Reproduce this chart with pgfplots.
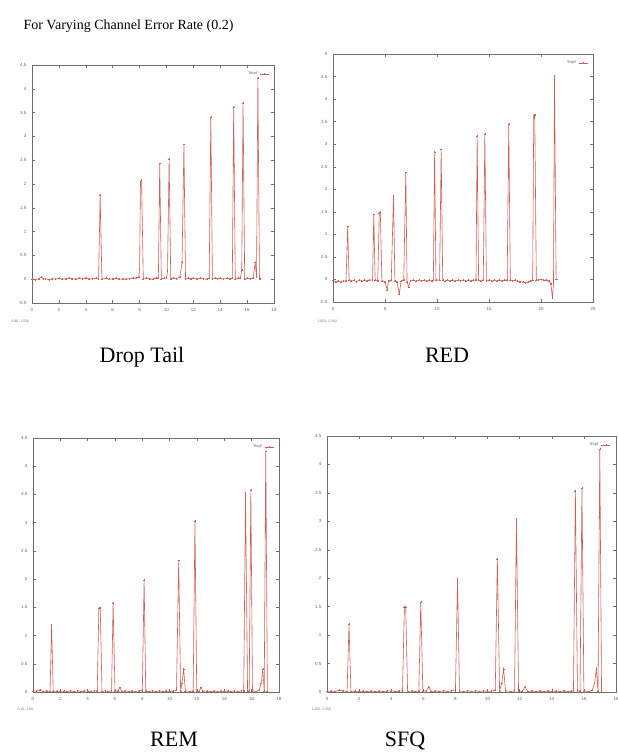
\documentclass[border=0pt]{standalone}
\usepackage{fontspec}
\setmainfont{Liberation Serif}
\newfontfamily\tickfont{Liberation Sans}
\usepackage{pgfplots}
\pgfplotsset{compat=1.18}
\definecolor{xgline}{RGB}{205,95,85}
\definecolor{xgframe}{RGB}{110,110,110}
\pgfplotsset{
 xgp/.style={color=xgline, line width=0.6pt, mark=+, mark size=0.9pt, mark options={solid, line width=0.4pt, draw=xgline}},
 xg/.style={
  scale only axis, anchor=south west,
  axis line style={draw=xgframe, line width=0.6pt},
  tick style={draw=xgframe, line width=0.4pt},
  major tick length=3pt, tick align=inside,
  xtick pos=both, ytick pos=both,
  /pgf/number format/assume math mode=true,
  ticklabel style={font=\tickfont\fontsize{4.5}{5}\selectfont, text=black!60},
  xticklabel style={yshift=-2pt},
  yticklabel style={xshift=-2pt},
  legend style={font=\tickfont\fontsize{4}{4}\selectfont, text=black!60, draw=none, fill=none,
     at={(0.985,0.985)}, anchor=north east, inner sep=1pt},
  legend plot pos=right,
  legend image code/.code={\draw[xgline, line width=0.5pt] (0pt,0pt) -- (9pt,0pt); \draw[xgline, line width=0.4pt] (3.6pt,0pt) -- (5.4pt,0pt) (4.5pt,-0.9pt) -- (4.5pt,0.9pt);},
}}
\begin{document}
\begin{tikzpicture}[x=1pt,y=1pt]
\path[use as bounding box, fill=white] (0,0) rectangle (618,755);
\node[anchor=base west, font=\fontsize{14}{16}\selectfont] at (20,725) {For Varying Channel Error Rate (0.2)};
\node[anchor=base, font=\fontsize{22}{24}\selectfont] at (142,392) {Drop Tail};
\node[anchor=base, font=\fontsize{22}{24}\selectfont] at (447,392) {RED};
\node[anchor=base, font=\fontsize{22}{24}\selectfont] at (174,9) {REM};
\node[anchor=base, font=\fontsize{22}{24}\selectfont] at (405,9) {SFQ};
\node[anchor=west, font=\tickfont\fontsize{3.5}{4}\selectfont, text=black!55] at (8,433) {0.96, 1.556};
\node[anchor=west, font=\tickfont\fontsize{3.5}{4}\selectfont, text=black!55] at (314,433) {1.002, 1.342};
\node[anchor=west, font=\tickfont\fontsize{3.5}{4}\selectfont, text=black!55] at (14,45) {0.15, 1.09};
\node[anchor=west, font=\tickfont\fontsize{3.5}{4}\selectfont, text=black!55] at (308,45) {1.285, 1.555};

% Drop Tail
\begin{axis}[xg, at={(32pt,452pt)}, width=242pt, height=238pt,
  xmin=0, xmax=18, ymin=-0.5, ymax=4.5, xtick={0,2,...,18}, ytick={-0.5,0,...,4.5}]
\addplot[xgp] coordinates {(0,0) (0.25,-0.01) (0.5,0.01) (0.7,0.05) (0.85,0.0) (1.0,0.01) (1.25,-0.01) (1.5,0.01) (1.75,0.0) (2.0,0.02) (2.25,0.0) (2.5,0.01) (2.75,0.03) (3.0,0.01) (3.25,0.0) (3.5,0.02) (3.75,0.0) (4.0,0.03) (4.25,0.0) (4.5,0.01) (4.75,0.02) (4.95,0.0) (5.07,1.77) (5.2,0.0) (5.5,0.02) (5.75,0.0) (6.0,0.01) (6.25,0.02) (6.5,0.0) (6.75,0.01) (7.0,0.0) (7.25,0.01) (7.5,0.03) (7.75,0.02) (7.95,0.05) (8.0,0.21) (8.07,2.05) (8.15,2.08) (8.28,0.0) (8.5,0.02) (8.75,0.01) (9.0,0.0) (9.25,0.03) (9.4,0.02) (9.5,2.43) (9.62,0.0) (9.8,0.02) (10.0,0.03) (10.08,0.16) (10.2,2.53) (10.32,0.0) (10.5,0.02) (10.75,0.01) (11.0,0.05) (11.16,0.36) (11.3,2.83) (11.42,0.0) (11.6,0.02) (11.8,0.01) (12.0,0.02) (12.25,0.0) (12.5,0.02) (12.75,0.01) (13.0,0.0) (13.18,0.02) (13.3,3.41) (13.42,0.0) (13.6,0.02) (13.8,0.01) (14.0,0.02) (14.25,0.0) (14.5,0.02) (14.75,0.01) (14.9,0.02) (15.0,3.61) (15.12,0.0) (15.3,0.02) (15.5,0.03) (15.6,0.19) (15.7,3.70) (15.82,0.0) (16.0,0.02) (16.25,0.01) (16.45,0.03) (16.6,0.35) (16.7,0.05) (16.8,4.22) (16.92,0.0) (17.0,0.0)};
\addlegendentry{'thrpt'}
\end{axis}

% RED
\begin{axis}[xg, at={(333pt,453pt)}, width=260pt, height=248pt,
  xmin=0, xmax=25, ymin=-0.5, ymax=5, xtick={0,5,...,25}, ytick={-0.5,0,...,5}]
\addplot[xgp] coordinates {(0,-0.02) (0.25,-0.05) (0.5,-0.03) (0.75,-0.06) (1.0,-0.03) (1.25,-0.04) (1.41,1.17) (1.55,-0.02) (1.75,-0.04) (2.0,-0.02) (2.25,-0.05) (2.5,-0.02) (2.75,-0.04) (3.0,-0.02) (3.25,-0.03) (3.5,-0.02) (3.8,-0.01) (3.92,1.44) (4.05,-0.02) (4.3,-0.03) (4.45,1.48) (4.55,1.49) (4.7,-0.03) (5.0,-0.05) (5.2,-0.23) (5.35,-0.03) (5.6,-0.02) (5.82,1.86) (5.95,-0.03) (6.15,-0.05) (6.37,-0.32) (6.55,-0.03) (6.8,-0.02) (7.0,2.37) (7.12,-0.05) (7.27,-0.17) (7.45,-0.03) (7.75,-0.02) (8.0,-0.04) (8.25,-0.02) (8.5,-0.03) (8.75,-0.02) (9.0,-0.04) (9.25,-0.02) (9.5,-0.03) (9.65,-0.01) (9.77,2.83) (9.9,-0.02) (10.25,-0.01) (10.4,2.88) (10.55,-0.02) (10.75,-0.04) (11.0,-0.02) (11.25,-0.03) (11.5,-0.02) (11.75,-0.04) (12.0,-0.02) (12.25,-0.03) (12.5,-0.02) (12.75,-0.04) (13.0,-0.02) (13.25,-0.03) (13.5,-0.02) (13.75,-0.01) (13.86,3.18) (14.0,-0.02) (14.2,-0.04) (14.45,-0.02) (14.6,3.23) (14.75,-0.03) (15.0,-0.02) (15.25,-0.04) (15.5,-0.02) (15.75,-0.03) (16.0,-0.02) (16.25,-0.03) (16.5,-0.02) (16.75,-0.01) (16.9,3.45) (17.05,-0.02) (17.25,-0.03) (17.5,-0.02) (17.75,-0.04) (18.0,-0.05) (18.25,-0.06) (18.5,-0.07) (18.75,-0.06) (19.0,-0.03) (19.2,-0.02) (19.3,3.64) (19.4,3.65) (19.55,-0.02) (19.75,-0.01) (20.0,0.0) (20.25,-0.02) (20.5,-0.01) (20.75,-0.03) (20.95,-0.1) (21.1,-0.41) (21.2,-0.1) (21.3,4.52) (21.45,0.0) (21.5,0.0)};
\addlegendentry{'thrpt'}
\end{axis}

% REM
\begin{axis}[xg, at={(33pt,63pt)}, width=246pt, height=254pt,
  xmin=0, xmax=18, ymin=0, ymax=4.5, xtick={0,2,...,18}, ytick={0,0.5,...,4.5}]
\addplot[xgp] coordinates {(0,0.01) (0.25,0.02) (0.5,0.04) (0.75,0.01) (1.0,0.02) (1.25,0.01) (1.36,1.18) (1.48,0.01) (1.75,0.02) (2.0,0.01) (2.25,0.02) (2.5,0.01) (2.75,0.02) (3.0,0.01) (3.25,0.02) (3.5,0.01) (3.75,0.02) (4.0,0.02) (4.25,0.01) (4.5,0.02) (4.7,0.02) (4.82,1.49) (4.92,1.49) (5.05,0.01) (5.3,0.02) (5.5,0.01) (5.75,0.02) (5.86,1.58) (6.0,0.01) (6.2,0.02) (6.35,0.08) (6.5,0.01) (6.75,0.02) (7.0,0.01) (7.25,0.02) (7.5,0.01) (7.75,0.02) (8.0,0.03) (8.13,1.98) (8.25,0.02) (8.5,0.01) (8.75,0.02) (9.0,0.01) (9.25,0.02) (9.5,0.01) (9.75,0.02) (10.0,0.01) (10.25,0.02) (10.5,0.03) (10.66,2.33) (10.8,0.02) (10.9,0.15) (11.02,0.41) (11.15,0.02) (11.5,0.01) (11.72,0.02) (11.85,3.03) (11.98,0.02) (12.15,0.01) (12.3,0.08) (12.45,0.01) (12.75,0.02) (13.0,0.01) (13.25,0.02) (13.5,0.01) (13.75,0.02) (14.0,0.01) (14.25,0.02) (14.5,0.01) (14.75,0.02) (15.0,0.01) (15.25,0.02) (15.42,0.02) (15.55,3.52) (15.7,0.02) (15.82,0.02) (15.94,3.58) (16.06,0.02) (16.3,0.01) (16.55,0.03) (16.7,0.15) (16.81,0.41) (16.92,0.02) (17.03,4.26) (17.15,0.01)};
\addlegendentry{'thrpt'}
\end{axis}

% SFQ
\begin{axis}[xg, at={(327pt,63pt)}, width=289pt, height=256pt,
  xmin=0, xmax=18, ymin=0, ymax=4.5, xtick={0,2,...,18}, ytick={0,0.5,...,4.5}]
\addplot[xgp] coordinates {(0,0.01) (0.25,0.02) (0.5,0.01) (0.75,0.03) (1.0,0.02) (1.25,0.01) (1.37,1.19) (1.49,0.01) (1.75,0.02) (2.0,0.01) (2.25,0.02) (2.5,0.01) (2.75,0.02) (3.0,0.01) (3.25,0.02) (3.5,0.01) (3.75,0.02) (4.0,0.02) (4.25,0.01) (4.5,0.02) (4.7,0.02) (4.82,1.49) (4.9,1.49) (5.02,0.01) (5.3,0.02) (5.5,0.01) (5.72,0.02) (5.84,1.58) (5.97,0.01) (6.2,0.02) (6.33,0.09) (6.5,0.01) (6.75,0.02) (7.0,0.01) (7.25,0.02) (7.5,0.01) (7.75,0.02) (8.0,0.03) (8.13,1.98) (8.25,0.02) (8.5,0.01) (8.75,0.02) (9.0,0.01) (9.25,0.02) (9.5,0.01) (9.75,0.02) (10.0,0.01) (10.25,0.02) (10.48,0.03) (10.61,2.34) (10.75,0.02) (10.88,0.15) (11.0,0.40) (11.12,0.02) (11.45,0.01) (11.68,0.02) (11.8,3.04) (11.93,0.02) (12.15,0.01) (12.34,0.09) (12.5,0.01) (12.75,0.02) (13.0,0.01) (13.25,0.02) (13.5,0.01) (13.75,0.02) (14.0,0.01) (14.25,0.02) (14.5,0.01) (14.75,0.02) (15.0,0.01) (15.2,0.02) (15.35,0.02) (15.47,3.53) (15.6,0.02) (15.76,0.02) (15.88,3.58) (16.0,0.02) (16.3,0.01) (16.52,0.03) (16.66,0.15) (16.78,0.40) (16.88,0.02) (16.99,4.27) (17.1,0.01)};
\addlegendentry{'thrpt'}
\end{axis}
\end{tikzpicture}
\end{document}
